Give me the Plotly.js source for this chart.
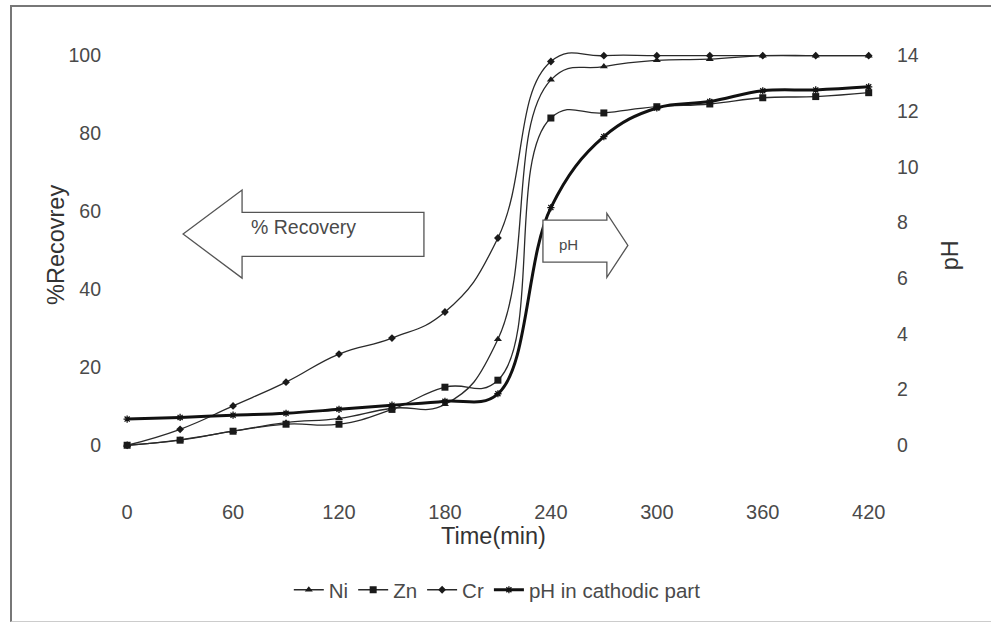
<!DOCTYPE html>
<html>
<head>
<meta charset="utf-8">
<script src="https://cdn.plot.ly/plotly-3.0.1.min.js"></script>
<style>
  html, body { margin: 0; padding: 0; background: #fff; }
  #wrap { position: relative; width: 991px; height: 622px; overflow: hidden; }
  #chart { position: absolute; left: 0; top: 0; width: 991px; height: 622px; }
  #frame { position: absolute; left: 10px; top: 5px; right: 0; bottom: 0;
           border-left: 2px solid #777; border-top: 2px solid #777;
           border-bottom: 1px solid #ccc; pointer-events: none; }
</style>
</head>
<body>
<div id="wrap">
  <div id="chart"></div>
  <div id="frame"></div>
</div>
<script>
// Sampling times (min)
const timeMin = [0, 30, 60, 90, 120, 150, 180, 210, 240, 270, 300, 330, 360, 390, 420];

// Metal recovery (%)
const ni = [0, 1.4, 3.6, 5.8, 6.9, 9.5, 10.5, 27.2, 93.8, 97.2, 98.8, 99.1, 100, 100, 100];
const zn = [0, 1.3, 3.6, 5.4, 5.4, 9.2, 14.9, 16.7, 84.0, 85.3, 86.9, 87.6, 89.2, 89.5, 90.5];
const cr = [0, 4.1, 10.1, 16.2, 23.4, 27.5, 34.2, 53.2, 98.5, 100, 100, 100, 100, 100, 100];

// pH measured in the cathodic part
const ph = [0.94, 1.0, 1.08, 1.15, 1.29, 1.44, 1.58, 1.85, 8.54, 11.09, 12.12, 12.35, 12.74, 12.77, 12.88];

// Axis ticks
const xTicks = [0, 60, 120, 180, 240, 300, 360, 420];
const yTicks = [0, 20, 40, 60, 80, 100];
const phTicks = [0, 2, 4, 6, 8, 10, 12, 14];

const FONT = 'Liberation Sans, Arial, sans-serif';
const TXT = '#4a4a4a';

const thin = (name, y, symbol, size) => ({
  x: timeMin, y: y, name: name, type: 'scatter', mode: 'lines+markers',
  line: { color: '#2a2a2a', width: 1.3, shape: 'spline', smoothing: 1.3 },
  marker: { symbol: symbol, size: size, color: '#1a1a1a' },
  yaxis: 'y'
});

const traces = [
  thin('Ni', ni, 'triangle-up', 7),
  thin('Zn', zn, 'square', 7),
  thin('Cr', cr, 'diamond', 6),
  {
    x: timeMin, y: ph, name: 'pH in cathodic part', type: 'scatter', mode: 'lines+markers',
    line: { color: '#111', width: 3, shape: 'spline', smoothing: 1.1 },
    marker: { symbol: 'asterisk-open', size: 6, line: { color: '#111', width: 1.3 } },
    yaxis: 'y2'
  }
];

// Block arrows pointing to the axes they refer to
const leftArrow = 'M 31.7,54.2 L 65.1,65.5 L 65.1,59.8 L 168.1,59.8 L 168.1,48.5 L 65.1,48.5 L 65.1,42.9 Z';
const rightArrow = 'M 235.5,57.8 L 271.7,57.8 L 271.7,59.5 L 283.6,51.3 L 271.7,43.1 L 271.7,47.0 L 235.5,47.0 Z';

const layout = {
  width: 991, height: 622,
  margin: { l: 113, r: 117, t: 51, b: 130 },
  paper_bgcolor: '#fff', plot_bgcolor: '#fff',
  font: { family: FONT, color: TXT },
  showlegend: true,
  legend: {
    orientation: 'h', x: 0.505, xanchor: 'center', y: -0.222, yanchor: 'middle',
    font: { size: 20.5, color: TXT, family: FONT }, bgcolor: 'rgba(0,0,0,0)'
  },
  xaxis: {
    range: [-8, 423], tickvals: xTicks, ticktext: xTicks.map(String),
    showgrid: false, zeroline: false, showline: false, ticks: '',
    ticklabelstandoff: 6,
    tickfont: { size: 20, color: TXT, family: FONT },
    title: { text: 'Time(min)', font: { size: 23.5, color: '#333', family: FONT }, standoff: 4 }
  },
  yaxis: {
    range: [-12, 101.2], tickvals: yTicks, ticktext: yTicks.map(String),
    showgrid: false, zeroline: false, showline: false, ticks: '',
    ticklabelstandoff: 11,
    tickfont: { size: 19.5, color: TXT, family: FONT }
  },
  yaxis2: {
    overlaying: 'y', side: 'right',
    range: [-1.68, 14.168], tickvals: phTicks, ticktext: phTicks.map(String),
    showgrid: false, zeroline: false, showline: false, ticks: '',
    ticklabelstandoff: 22,
    tickfont: { size: 19.5, color: TXT, family: FONT }
  },
  shapes: [
    { type: 'path', path: leftArrow, xref: 'x', yref: 'y', fillcolor: '#fff',
      line: { color: '#555', width: 1.3 }, layer: 'above' },
    { type: 'path', path: rightArrow, xref: 'x', yref: 'y', fillcolor: '#fff',
      line: { color: '#555', width: 1.3 }, layer: 'above' }
  ],
  annotations: [
    // axis titles
    { x: -0.075, y: 0.56, xref: 'paper', yref: 'paper', xanchor: 'center', yanchor: 'middle',
      text: '%Recovrey', textangle: -90,
      showarrow: false, font: { size: 23.5, color: '#333', family: FONT } },
    { x: 1.1, y: 0.537, xref: 'paper', yref: 'paper', xanchor: 'center', yanchor: 'middle',
      text: 'pH', textangle: -90,
      showarrow: false, font: { size: 23.5, color: '#333', family: FONT } },
    // arrow labels
    { x: 100, y: 56, xref: 'x', yref: 'y', text: '% Recovery', showarrow: false,
      font: { size: 19.5, color: TXT, family: FONT } },
    { x: 250, y: 51.5, xref: 'x', yref: 'y', text: 'pH', showarrow: false,
      font: { size: 15, color: TXT, family: FONT } }
  ]
};

Plotly.newPlot('chart', traces, layout, { staticPlot: true, displayModeBar: false });
</script>
</body>
</html>
